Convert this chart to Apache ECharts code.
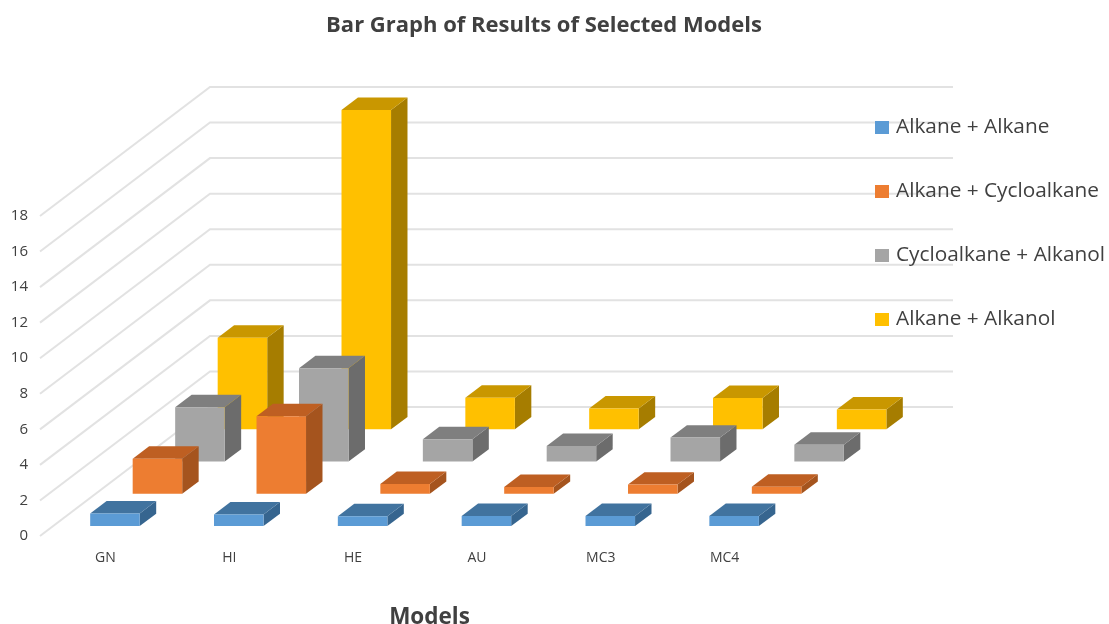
<!DOCTYPE html>
<html>
<head>
<meta charset="utf-8">
<style>html,body{margin:0;padding:0;background:#fff}#chart{width:1109px;height:624px}</style>
<script src="https://cdn.jsdelivr.net/npm/echarts@6/dist/echarts.min.js"></script>
</head>
<body>
<div id="chart"></div>
<script>
// Model names and the values of each mixture class
const models = ['GN', 'HI', 'HE', 'AU', 'MC3', 'MC4'];
const alkaneAlkane = [0.71, 0.66, 0.55, 0.57, 0.57, 0.57];
const alkaneCycloalkane = [1.97, 4.37, 0.56, 0.39, 0.52, 0.40];
const cycloalkaneAlkanol = [3.06, 5.25, 1.26, 0.88, 1.35, 0.95];
const alkaneAlkanol = [5.16, 17.96, 1.78, 1.18, 1.77, 1.12];
const yTicks = [0, 2, 4, 6, 8, 10, 12, 14, 16, 18];

// Oblique projection of the depth axis, in pixels
const DEPTH_X = 170, DEPTH_Y = 129;
const ROWS = 4;
const ROW_FILL = 0.387;   // share of a depth row taken by a bar
const BAR_FILL = 0.4;     // share of a category band taken by a bar

const mixtures = [
  { name: 'Alkane + Alkanol', values: alkaneAlkanol, row: 3, face: '#FFC000', top: '#C99700', side: '#A67D00' },
  { name: 'Cycloalkane + Alkanol', values: cycloalkaneAlkanol, row: 2, face: '#A5A5A5', top: '#7F7F7F', side: '#6C6C6C' },
  { name: 'Alkane + Cycloalkane', values: alkaneCycloalkane, row: 1, face: '#ED7D31', top: '#BE5F22', side: '#A5541E' },
  { name: 'Alkane + Alkane', values: alkaneAlkane, row: 0, face: '#5B9BD5', top: '#41739F', side: '#36658F' }
];

// One cuboid: front face, top face and right side, shifted back along the depth axis
function renderBar(mix) {
  return function (params, api) {
    const base = api.coord([api.value(0), 0]);
    const head = api.coord([api.value(0), api.value(1)]);
    const width = api.size([1, 0])[0] * BAR_FILL;
    const depth = (1 - ROW_FILL) / 2 + mix.row;
    const sx = depth * DEPTH_X / ROWS, sy = depth * DEPTH_Y / ROWS;
    const dx = ROW_FILL * DEPTH_X / ROWS, dy = ROW_FILL * DEPTH_Y / ROWS;
    const x0 = base[0] - width / 2 + sx, x1 = x0 + width;
    const y0 = base[1] - sy, y1 = head[1] - sy;
    const poly = (points, fill) => ({ type: 'polygon', shape: { points }, style: { fill } });
    return {
      type: 'group',
      children: [
        poly([[x1, y0], [x1 + dx, y0 - dy], [x1 + dx, y1 - dy], [x1, y1]], mix.side),
        poly([[x0, y1], [x1, y1], [x1 + dx, y1 - dy], [x0 + dx, y1 - dy]], mix.top),
        poly([[x0, y0], [x1, y0], [x1, y1], [x0, y1]], mix.face)
      ]
    };
  };
}

// Gridlines running along the side wall and across the back wall
function renderWall(params, api) {
  const sys = params.coordSys;
  const y = api.coord([0, api.value(0)])[1];
  return {
    type: 'polyline',
    shape: { points: [[sys.x, y], [sys.x + DEPTH_X, y - DEPTH_Y], [sys.x + sys.width + DEPTH_X, y - DEPTH_Y]] },
    style: { stroke: '#E2E2E2', lineWidth: 2, fill: null }
  };
}

const chart = echarts.init(document.getElementById('chart'), null, { renderer: 'canvas' });
chart.setOption({
  animation: false,
  backgroundColor: '#ffffff',
  textStyle: { fontFamily: 'Open Sans' },
  title: {
    text: 'Bar Graph of Results of Selected Models',
    left: 539, top: 10, textAlign: 'center',
    textStyle: { fontFamily: 'Open Sans', fontSize: 22, fontWeight: 'bold', color: '#404040' }
  },
  legend: {
    orient: 'vertical', left: 870, top: 112, itemWidth: 14, itemHeight: 13, itemGap: 43,
    icon: 'rect', selectedMode: false,
    data: ['Alkane + Alkane', 'Alkane + Cycloalkane', 'Cycloalkane + Alkanol', 'Alkane + Alkanol'],
    textStyle: { fontFamily: 'Open Sans', fontSize: 20.8, color: '#404040', padding: [0, 0, 0, 2] }
  },
  grid: { left: 40, top: 216, width: 743, height: 320, outerBoundsMode: 'none' },
  xAxis: {
    type: 'category', data: models,
    axisLine: { show: false }, axisTick: { show: false },
    axisLabel: { margin: 15, fontSize: 14, color: '#404040', padding: [0, 0, 0, 7] },
    name: 'Models', nameLocation: 'middle', nameGap: 70,
    nameTextStyle: { fontSize: 22.5, fontWeight: 'bold', color: '#404040', padding: [0, 0, 0, 36] }
  },
  yAxis: {
    type: 'value', min: 0, max: 18, interval: 2,
    axisLine: { show: false }, axisTick: { show: false }, splitLine: { show: false },
    axisLabel: { margin: 12, fontSize: 15, color: '#404040', padding: [3, 0, 0, 0] }
  },
  series: [
    { type: 'custom', name: 'wall', data: yTicks.map(v => [v]), renderItem: renderWall, silent: true, encode: { y: 0 } }
  ].concat(mixtures.map(mix => ({
    type: 'custom',
    name: mix.name,
    itemStyle: { color: mix.face },
    data: mix.values.map((v, i) => [i, v]),
    encode: { x: 0, y: 1 },
    renderItem: renderBar(mix)
  })))
});
</script>
</body>
</html>
